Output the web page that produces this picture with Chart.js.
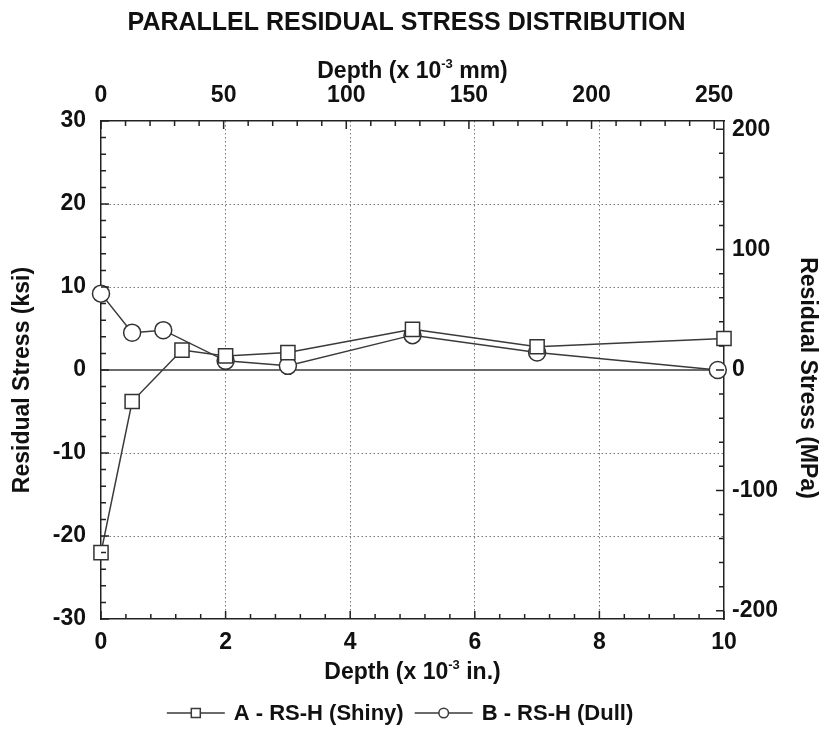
<!DOCTYPE html>
<html>
<head>
<meta charset="utf-8">
<title>Parallel Residual Stress Distribution</title>
<script src="https://cdn.jsdelivr.net/npm/chart.js@4.4.0/dist/chart.umd.min.js"></script>
<style>
    html, body { margin: 0; padding: 0; background: #fff; }
    #wrap { width: 828px; height: 729px; }
</style>
</head>
<body>
<div id="wrap"><canvas id="stressChart" width="828" height="729"></canvas></div>
<script>
// Depth in 10^-3 in., residual stress in ksi
const depthA = [0, 0.5, 1.3, 2, 3, 5, 7, 10];
const stressA = [-22, -3.8, 2.4, 1.7, 2.1, 4.9, 2.8, 3.8];
const depthB = [0, 0.5, 1, 2, 3, 5, 7, 9.9];
const stressB = [9.2, 4.5, 4.8, 1.1, 0.5, 4.2, 2.1, 0];

const seriesNames = ['A - RS-H (Shiny)', 'B - RS-H (Dull)'];

// Tick labels for the four axes
const depthTicksIn = [0, 2, 4, 6, 8, 10];
const depthTicksMm = [0, 50, 100, 150, 200, 250];
const stressTicksKsi = [-30, -20, -10, 0, 10, 20, 30];
const stressTicksMpa = [-200, -100, 0, 100, 200];

const IN_TO_MM = 25.4;
const KSI_TO_MPA = 6.894757;

const FONT = '"Liberation Sans", Arial, sans-serif';
const INK = '#111';
const LINE = '#3a3a3a';

function toPoints(xs, ys) {
    return xs.map((x, i) => ({ x: x, y: ys[i] }));
}

function fixedTicks(values) {
    return function(scale) {
        scale.ticks = values.map(v => ({ value: v }));
    };
}

// Draws text with a "-3" style superscript part, centred on x
function drawRichText(ctx, parts, x, y, size) {
    const supSize = Math.round(size * 0.55);
    let total = 0;
    parts.forEach(p => {
        ctx.font = 'bold ' + (p.sup ? supSize : size) + 'px ' + FONT;
        p.w = ctx.measureText(p.text).width;
        total += p.w;
    });
    let cx = x - total / 2;
    ctx.textAlign = 'left';
    parts.forEach(p => {
        ctx.font = 'bold ' + (p.sup ? supSize : size) + 'px ' + FONT;
        ctx.fillText(p.text, cx, p.sup ? y - size * 0.42 : y);
        cx += p.w;
    });
}

// Inward major/minor ticks on every side of the frame
function drawInnerTicks(ctx, scale, minorStep) {
    const area = scale.chart.chartArea;
    const majors = scale.ticks.map(t => t.value);
    const first = Math.ceil(scale.min / minorStep - 1e-9);
    const last = Math.floor(scale.max / minorStep + 1e-9);
    ctx.beginPath();
    for (let i = first; i <= last; i++) {
        const v = i * minorStep;
        const isMajor = majors.some(m => Math.abs(m - v) < 1e-6);
        const len = isMajor ? 8 : 5;
        const p = scale.getPixelForValue(v);
        if (scale.position === 'bottom') { ctx.moveTo(p, area.bottom); ctx.lineTo(p, area.bottom - len); }
        if (scale.position === 'top') { ctx.moveTo(p, area.top); ctx.lineTo(p, area.top + len); }
        if (scale.position === 'left') { ctx.moveTo(area.left, p); ctx.lineTo(area.left + len, p); }
        if (scale.position === 'right') { ctx.moveTo(area.right, p); ctx.lineTo(area.right - len, p); }
    }
    ctx.stroke();
}

const frameDecor = {
    id: 'frameDecor',
    beforeDatasetsDraw(chart) {
        const { ctx, chartArea, scales } = chart;
        const y0 = scales.y.getPixelForValue(0);
        ctx.save();
        ctx.strokeStyle = LINE;
        ctx.lineWidth = 1.5;
        ctx.beginPath();
        ctx.moveTo(chartArea.left, y0);
        ctx.lineTo(chartArea.right, y0);
        ctx.stroke();
        ctx.restore();
    },
    afterDraw(chart) {
        const { ctx, chartArea, scales } = chart;
        const midX = (chartArea.left + chartArea.right) / 2;
        const midY = (chartArea.top + chartArea.bottom) / 2;
        ctx.save();
        ctx.strokeStyle = '#222';
        ctx.lineWidth = 1.5;
        drawInnerTicks(ctx, scales.x, 0.4);
        drawInnerTicks(ctx, scales.xMm, 10);
        drawInnerTicks(ctx, scales.y, 2);
        drawInnerTicks(ctx, scales.yMpa, 20);

        ctx.fillStyle = INK;
        ctx.textBaseline = 'alphabetic';
        ctx.textAlign = 'center';
        ctx.font = 'bold 25px ' + FONT;
        ctx.fillText('PARALLEL RESIDUAL STRESS DISTRIBUTION', midX - 6, 30);

        drawRichText(ctx, [{ text: 'Depth (x 10' }, { text: '-3', sup: true }, { text: ' mm)' }], midX, 78, 23);
        drawRichText(ctx, [{ text: 'Depth (x 10' }, { text: '-3', sup: true }, { text: ' in.)' }], midX, 679, 23);

        ctx.textBaseline = 'middle';
        ctx.textAlign = 'center';
        ctx.font = 'bold 23px ' + FONT;
        ctx.save();
        ctx.translate(23, midY + 10);
        ctx.rotate(-Math.PI / 2);
        ctx.fillText('Residual Stress (ksi)', 0, 0);
        ctx.restore();
        ctx.save();
        ctx.translate(807, midY + 8);
        ctx.rotate(Math.PI / 2);
        ctx.fillText('Residual Stress (MPa)', 0, 0);
        ctx.restore();

        // legend: line with marker, then the series name
        const styles = ['rect', 'circle'];
        const lineLen = 58, gap = 9, itemGap = 11;
        ctx.font = 'bold 22px ' + FONT;
        const widths = seriesNames.map(n => ctx.measureText(n).width);
        const total = widths.reduce((a, w) => a + lineLen + gap + w, 0) + itemGap;
        let lx = chart.width / 2 - 14 - total / 2;
        const ly = 713;
        seriesNames.forEach((name, i) => {
            ctx.strokeStyle = LINE;
            ctx.lineWidth = 1.5;
            ctx.beginPath();
            ctx.moveTo(lx, ly);
            ctx.lineTo(lx + lineLen, ly);
            ctx.stroke();
            const mx = lx + lineLen / 2;
            ctx.fillStyle = '#fff';
            ctx.beginPath();
            if (styles[i] === 'rect') ctx.rect(mx - 4.5, ly - 4.5, 9, 9);
            else ctx.arc(mx, ly, 4.8, 0, Math.PI * 2);
            ctx.fill();
            ctx.stroke();
            ctx.fillStyle = INK;
            ctx.textAlign = 'left';
            ctx.textBaseline = 'middle';
            ctx.fillText(name, lx + lineLen + gap, ly + 1);
            lx += lineLen + gap + widths[i] + itemGap;
        });
        ctx.restore();
    }
};

const tickFont = { family: FONT, size: 23, weight: 'bold' };
const dotted = '#7a7a7a';

new Chart(document.getElementById('stressChart'), {
    type: 'line',
    data: {
        datasets: [{
            label: seriesNames[0],
            data: toPoints(depthA, stressA),
            borderColor: LINE,
            borderWidth: 1.5,
            pointStyle: 'rect',
            pointRadius: 10,
            pointBackgroundColor: '#fff',
            pointBorderColor: '#333',
            pointBorderWidth: 1.5,
            tension: 0,
            clip: false
        }, {
            label: seriesNames[1],
            data: toPoints(depthB, stressB),
            borderColor: LINE,
            borderWidth: 1.5,
            pointStyle: 'circle',
            pointRadius: 8.5,
            pointBackgroundColor: '#fff',
            pointBorderColor: '#333',
            pointBorderWidth: 1.5,
            tension: 0,
            clip: false
        }]
    },
    options: {
        responsive: false,
        animation: false,
        devicePixelRatio: 1,
        layout: { padding: 0 },
        plugins: {
            legend: { display: false },
            title: { display: false },
            tooltip: { enabled: false }
        },
        scales: {
            x: {
                type: 'linear',
                position: 'bottom',
                min: 0,
                max: 10,
                afterBuildTicks: fixedTicks(depthTicksIn),
                afterFit: s => { s.height = 110; },
                grid: {
                    drawTicks: false,
                    lineWidth: 1,
                    color: c => (c.tick && (c.tick.value === 0 || c.tick.value === 10)) ? 'rgba(0,0,0,0)' : dotted
                },
                border: { display: true, color: '#222', width: 1.5, dash: [1.5, 2.5] },
                ticks: { font: tickFont, color: INK, padding: 10, maxRotation: 0 }
            },
            xMm: {
                type: 'linear',
                position: 'top',
                min: 0,
                max: 10 * IN_TO_MM,
                afterBuildTicks: fixedTicks(depthTicksMm),
                afterFit: s => { s.height = 121; },
                grid: { display: false, drawTicks: false },
                border: { display: true, color: '#222', width: 1.5 },
                ticks: { font: tickFont, color: INK, padding: 12, maxRotation: 0 }
            },
            y: {
                type: 'linear',
                position: 'left',
                min: -30,
                max: 30,
                afterBuildTicks: fixedTicks(stressTicksKsi),
                afterFit: s => { s.width = 101; },
                grid: {
                    drawTicks: false,
                    lineWidth: 1,
                    color: c => (c.tick && Math.abs(c.tick.value) % 30 === 0) ? 'rgba(0,0,0,0)' : dotted
                },
                border: { display: true, color: '#222', width: 1.5, dash: [1.5, 2.5] },
                ticks: { font: tickFont, color: INK, padding: 15 }
            },
            yMpa: {
                type: 'linear',
                position: 'right',
                min: -30 * KSI_TO_MPA,
                max: 30 * KSI_TO_MPA,
                afterBuildTicks: fixedTicks(stressTicksMpa),
                afterFit: s => { s.width = 104; },
                grid: { display: false, drawTicks: false },
                border: { display: true, color: '#222', width: 1.5 },
                ticks: { font: tickFont, color: INK, padding: 8 }
            }
        }
    },
    plugins: [frameDecor]
});
</script>
</body>
</html>
